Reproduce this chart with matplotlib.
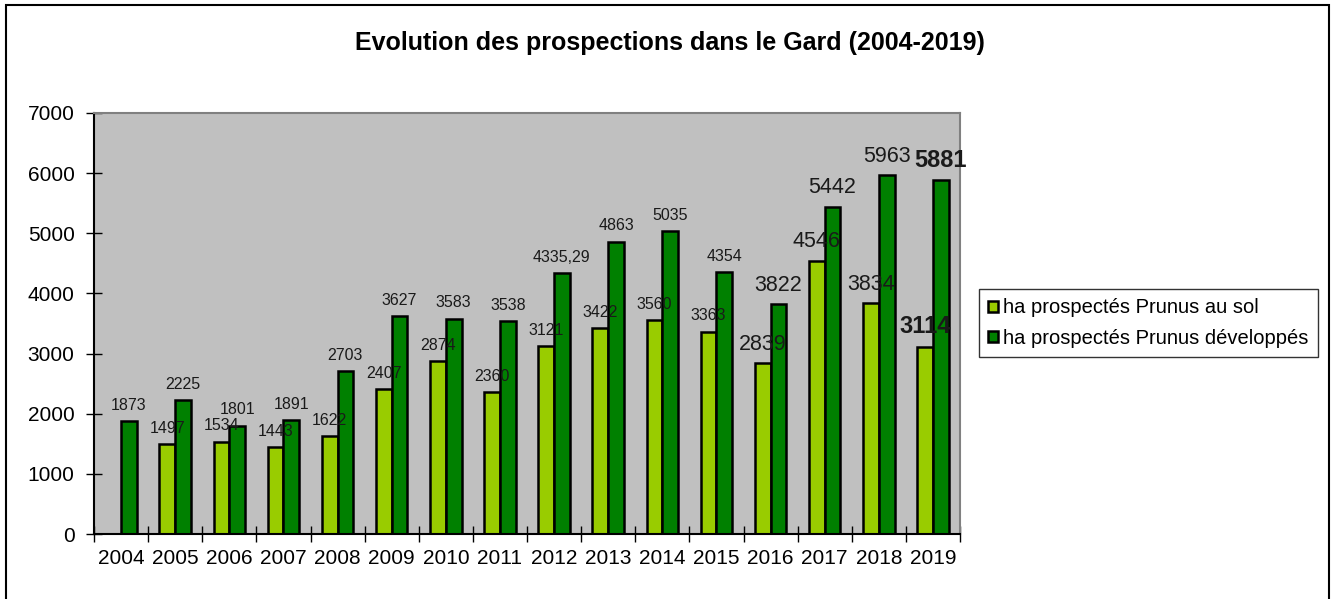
import numpy as np
import matplotlib
matplotlib.use('Agg')
from matplotlib import pyplot as plt
from matplotlib.patches import Rectangle

plt.rcParams['font.family'] = ['Liberation Sans', 'DejaVu Sans']

years = [2004, 2005, 2006, 2007, 2008, 2009, 2010, 2011,
         2012, 2013, 2014, 2015, 2016, 2017, 2018, 2019]
sol = [np.nan, 1497, 1534, 1443, 1622, 2407, 2874, 2360,
       3121, 3422, 3560, 3363, 2839, 4546, 3834, 3114]
developpes = [1873, 2225, 1801, 1891, 2703, 3627, 3583, 3538,
              4335.29, 4863, 5035, 4354, 3822, 5442, 5963, 5881]
serie_sol = 'ha prospectés Prunus au sol'
serie_dev = 'ha prospectés Prunus développés'
title = 'Evolution des prospections dans le Gard (2004-2019)'

# label emphasis, as in the original sheet
big_years = [2016, 2017, 2018]
bold_years = [2019]


def fmt(v):
    if float(v).is_integer():
        return '%d' % v
    return ('%.2f' % v).replace('.', ',')


def label_style(year):
    if year in bold_years:
        return 17, 'bold'
    if year in big_years:
        return 15.5, 'normal'
    return 11.5, 'normal'


fig = plt.figure(figsize=(13.36, 5.99), dpi=100)
ax = fig.add_axes([94 / 1336, 65 / 599, 866 / 1336, 421 / 599])
ax.set_facecolor('#C0C0C0')

x = np.arange(len(years))
w = 0.29
bars_sol = ax.bar(x - w / 2, sol, w, color='#99CC00', edgecolor='black',
                  linewidth=1.8, label=serie_sol, zorder=2)
bars_dev = ax.bar(x + w / 2, developpes, w, color='#008000', edgecolor='black',
                  linewidth=1.8, label=serie_dev, zorder=2)

for i, yr in enumerate(years):
    size, weight = label_style(yr)
    for xpos, val in ((x[i] - w / 2, sol[i]), (x[i] + w / 2, developpes[i])):
        if np.isnan(val):
            continue
        ax.annotate(fmt(val), (xpos, val), xytext=(0, 6), textcoords='offset points',
                    ha='center', va='bottom', fontsize=size, fontweight=weight,
                    color='#1a1a1a', zorder=3)

ax.set_xlim(-0.5, len(years) - 0.5)
ax.set_ylim(0, 7000)
ax.set_yticks(range(0, 7001, 1000))
ax.set_xticks(x)
ax.set_xticklabels([str(y) for y in years])
ax.set_xticks(np.arange(-0.5, len(years)), minor=True)
ax.tick_params(axis='x', which='major', length=0, pad=11, labelsize=15)
ax.tick_params(axis='x', which='minor', direction='inout', length=12, width=1)
ax.tick_params(axis='y', direction='inout', length=12, width=1, pad=8, labelsize=15)

for side in ('top', 'right'):
    ax.spines[side].set_color('#808080')
    ax.spines[side].set_linewidth(1.5)
for side in ('left', 'bottom'):
    ax.spines[side].set_color('black')
    ax.spines[side].set_linewidth(1.5)

leg = ax.legend(loc='center left', bbox_to_anchor=(979 / 1336, 1 - 323 / 599),
                bbox_transform=fig.transFigure, frameon=True, fancybox=False,
                fontsize=14.5, handlelength=0.5, handleheight=0.5, handletextpad=0.25,
                labelspacing=0.55, borderpad=0.45, borderaxespad=0, edgecolor='black')
leg.get_frame().set_linewidth(1)

fig.text(0.5 * (350 + 990) / 1336, 1 - 43 / 599, title, ha='center', va='center',
         fontsize=18, fontweight='bold')

fig.patches.append(Rectangle((6 / 1336, -0.01), 1323 / 1336, 1.01 - 5 / 599,
                             transform=fig.transFigure, fill=False,
                             edgecolor='black', linewidth=1.5))

fig.savefig('out.png', dpi=100)
